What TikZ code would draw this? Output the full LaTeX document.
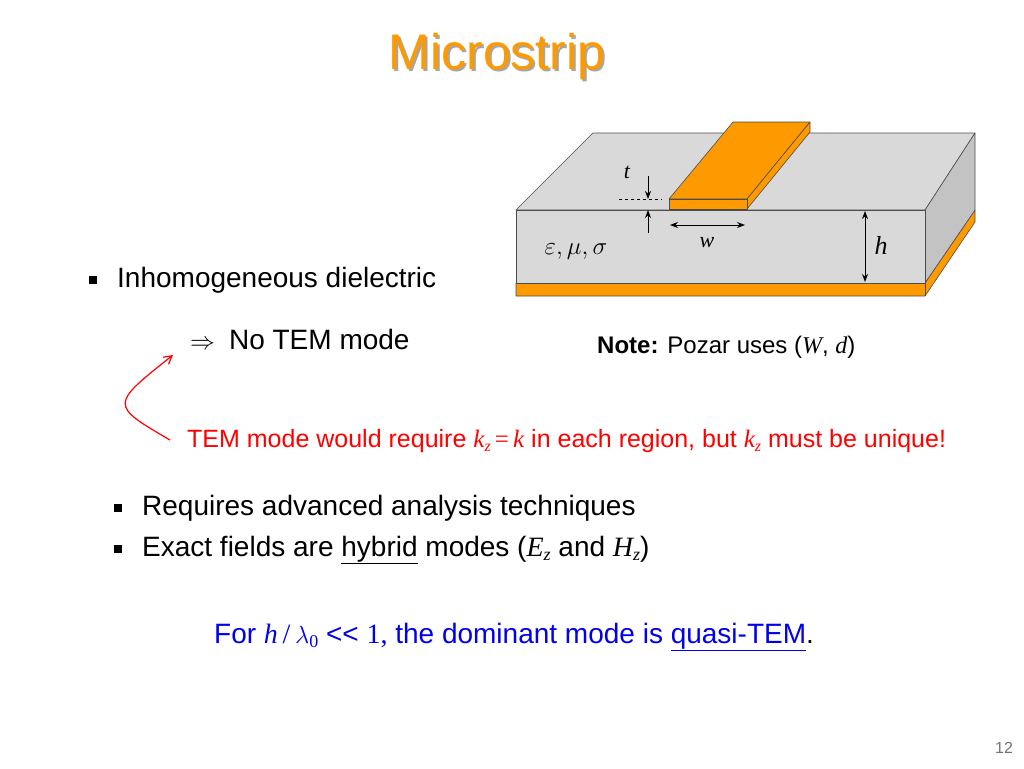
\documentclass[tikz,border=0pt]{standalone}
\usepackage{fontspec}
\setmainfont{Liberation Sans}
\newfontfamily\tms{Liberation Serif}
\usetikzlibrary{arrows.meta,positioning}
\definecolor{copper}{RGB}{255,153,0}
\definecolor{slab}{RGB}{217,217,217}
\definecolor{linkblue}{RGB}{0,0,238}
\newcommand{\mv}[1]{{\tms\itshape #1}}
\newcommand{\txtsize}[1]{\fontsize{#1}{#1}\selectfont}
\newcommand{\bul}{\makebox[0pt][r]{\rule[3pt]{8pt}{8pt}\hspace{20pt}}}
\tikzset{
  body/.style={anchor=west,inner sep=0pt,text=black},
  dim/.style={-{Stealth[length=8pt,width=6pt]},line width=1pt},
  dimboth/.style={{Stealth[length=8pt,width=6pt]}-{Stealth[length=8pt,width=6pt]},line width=1pt},
  face/.style={draw=black!70,line width=0.6pt,line join=round},
}
\begin{document}
\begin{tikzpicture}[x=1pt,y=-1pt]
  \useasboundingbox (0,0) rectangle (1024,768);
  % title
  \node[text=black!35] at (499,59) {\txtsize{50}Microstrip};
  \node[text=copper] (title) at (497,57) {\txtsize{50}Microstrip};

  % substrate
  \draw[face,fill=copper] (516,283) -- (925,283) -- (975,210) -- (975,222) -- (925,296) -- (516,296) -- cycle;
  \draw[face] (925,283) -- (925,296);
  \draw[face,fill=slab] (516,210) -- (593,133) -- (975,133) -- (925,210) -- cycle;
  \draw[face,fill=slab!90!black] (925,210) -- (975,133) -- (975,210) -- (925,283) -- cycle;
  \draw[face,fill=slab] (516,210) rectangle (925,283);
  % strip
  \draw[face,fill=copper] (669,199) -- (733,122) -- (810,122) -- (747,199) -- cycle;
  \draw[face,fill=copper] (747,199) -- (810,122) -- (810,132) -- (747,209) -- cycle;
  \draw[face,fill=copper] (669,199) rectangle (747,209);

  % dimensions
  \coordinate (ttop) at (648,176);
  \coordinate (tmid) at (648,199);
  \coordinate (tbot) at (648,233);
  \coordinate (tface) at (648,210);
  \draw[dim] (ttop) -- (tmid);
  \draw[dim] (tbot) -- (tface);
  \draw[dashed,line width=0.6pt] (619,199) -- (662,199);
  \node (tlab) at (627,172) {\txtsize{22}\mv{t}};
  \coordinate (wl) at (670,225);
  \coordinate (wr) at (745,225);
  \draw[dimboth] (wl) -- (wr);
  \node (wlab) at (707,243) {\txtsize{22}\mv{w}};
  \coordinate (htop) at (865,211);
  \coordinate (hbot) at (865,282);
  \draw[dimboth] (htop) -- (hbot);
  \node (hlab) at (881,245) {\txtsize{26}\mv{h}};
  \node (mat) at (576,252) {\txtsize{27}$\varepsilon,\mu,\sigma$};

  % text
  \node[body] (b1) at (117,280) {\txtsize{28}\bul Inhomogeneous dielectric};
  \node[body] (nt) at (190,339) {\txtsize{28}$\Rightarrow$\hspace{14pt}No TEM mode};
  \node[body] (note) at (597,347) {\txtsize{24}\textbf{Note:} Pozar uses (\mv{W}, \mv{d})};
  \node[body,text=red] (req) at (187,441) {\txtsize{25}TEM mode would require \mv{k}\raisebox{-4pt}{\txtsize{16}\mv{z}}\,{\tms =}\,\mv{k} in each region, but \mv{k}\raisebox{-4pt}{\txtsize{16}\mv{z}} must be unique!};
  \node[body] (b2) at (142,508) {\txtsize{28}\bul Requires advanced analysis techniques};
  \node[body] (b3) at (142,550) {\txtsize{28}\bul Exact fields are \underline{hybrid} modes (\mv{E}\raisebox{-4pt}{\txtsize{18}\mv{z}} and \mv{H}\raisebox{-4pt}{\txtsize{18}\mv{z}})};
  \node[body,text=linkblue] (qt) at (214,637) {\txtsize{28}For \mv{h}\,{\tms /}\,$\lambda$\raisebox{-4pt}{\txtsize{18}{\tms 0}} {<}{<} {\tms 1,} the dominant mode is \underline{quasi-TEM}\textcolor{black}{.}};
  \node[text=black!55] (pg) at (1004,748) {\txtsize{16}12};

  % red pointer
  \coordinate (rs) at (170,440);
  \coordinate (re) at (173,355);
  \draw[red,line width=1.2pt,-{Straight Barb[length=8pt,width=9pt]}] (rs) .. controls (110,405) .. (re);
\end{tikzpicture}
\end{document}
